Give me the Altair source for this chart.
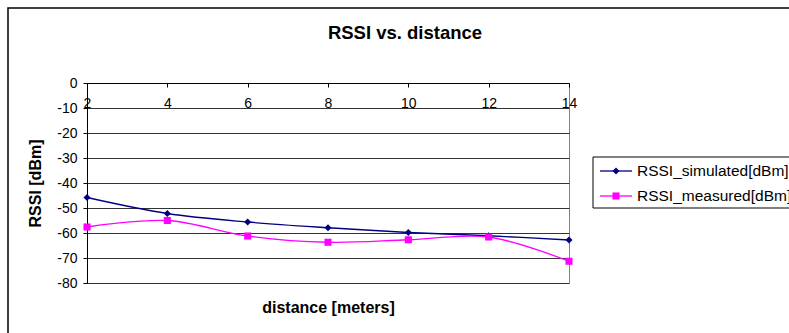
import altair as alt
import pandas as pd

# ---- data ----
distance = [2, 4, 6, 8, 10, 12, 14]
rssi_simulated = [-45.8, -52.2, -55.6, -57.9, -59.8, -61.1, -62.8]
rssi_measured = [-57.6, -55.0, -61.2, -63.7, -62.7, -61.6, -71.3]
series_names = ["RSSI_simulated[dBm]", "RSSI_measured[dBm]"]
series_colors = ["#000080", "#FF00FF"]
series_shapes = ["diamond", "square"]
y_ticks = [0, -10, -20, -30, -40, -50, -60, -70, -80]
x_ticks = [2, 4, 6, 8, 10, 12, 14]

df = pd.DataFrame({
    "distance": distance + distance,
    "rssi": rssi_simulated + rssi_measured,
    "series": [series_names[0]] * len(distance) + [series_names[1]] * len(distance),
})
legend_df = pd.DataFrame({"series": series_names})
one_row = pd.DataFrame({"k": [0]})

FONT = "Liberation Sans, Arial, sans-serif"
W, H = 482, 200
PAD_L, PAD_T = 87, 83

color = alt.Color("series:N", scale=alt.Scale(domain=series_names, range=series_colors), legend=None)
shape = alt.Shape("series:N", scale=alt.Scale(domain=series_names, range=series_shapes), legend=None)

x_enc = alt.X(
    "distance:Q",
    scale=alt.Scale(domain=[2, 14], nice=False, zero=False),
    axis=alt.Axis(
        values=x_ticks, orient="bottom", offset=-H, tickSize=4, tickColor="black",
        domainColor="black", labelFont=FONT, labelFontSize=14, labelColor="black",
        labelPadding=9, labelFlush=False, labelOverlap=False, grid=False,
        title="distance [meters]", titleFont=FONT,
        titleFontSize=16, titleFontWeight="bold", titleColor="black",
        titleY=224, titleBaseline="middle",
    ),
)
y_enc = alt.Y(
    "rssi:Q",
    scale=alt.Scale(domain=[-80, 0], nice=False, zero=False),
    axis=alt.Axis(
        values=y_ticks, tickSize=4, tickColor="black", domainColor="black",
        grid=True, gridColor="#333333", gridWidth=1,
        labelFont=FONT, labelFontSize=14, labelColor="black", labelPadding=6,
        labelOverlap=False, labelExpr="'' + datum.value",
        title="RSSI [dBm]", titleFont=FONT, titleFontSize=16, titleFontWeight="bold",
        titleColor="black", titlePadding=13,
    ),
)

border = alt.Chart(one_row).mark_rect(fillOpacity=0, stroke="black", strokeWidth=1.5).encode(
    x=alt.value(8 - PAD_L), x2=alt.value(900), y=alt.value(8 - PAD_T), y2=alt.value(500)
)

lines = alt.Chart(df).mark_line(interpolate="catmull-rom", strokeWidth=1.3).encode(
    x=x_enc, y=y_enc, color=color, detail="series:N"
)
points = alt.Chart(df).mark_point(filled=True, size=50, opacity=1).encode(
    x=x_enc, y=y_enc, color=color, shape=shape
)

# legend (box + line-with-marker symbols + labels)
LX, LY = 593 - PAD_L, 157 - PAD_T
legend_box = alt.Chart(one_row).mark_rect(fill="white", stroke="black", strokeWidth=1).encode(
    x=alt.value(LX), x2=alt.value(900), y=alt.value(LY), y2=alt.value(LY + 51)
)
legend_layers = []
for i, name in enumerate(series_names):
    row_y = LY + 14 + i * 25
    base = alt.Chart(legend_df).transform_filter(alt.datum.series == name)
    legend_layers.append(
        base.mark_rule(strokeWidth=1.3).encode(
            x=alt.value(LX + 7), x2=alt.value(LX + 39), y=alt.value(row_y), color=color
        )
    )
    legend_layers.append(
        base.mark_point(filled=True, size=50, opacity=1).encode(
            x=alt.value(LX + 23), y=alt.value(row_y), color=color, shape=shape
        )
    )
    legend_layers.append(
        base.mark_text(align="left", baseline="middle", font=FONT, fontSize=15.5, color="black").encode(
            x=alt.value(LX + 44), y=alt.value(row_y), text="series:N"
        )
    )

chart = alt.layer(border, lines, points, legend_box, *legend_layers).properties(
    width=W,
    height=H,
    autosize=alt.AutoSizeParams(type="none"),
    padding={"left": PAD_L, "top": PAD_T, "right": 789 - PAD_L - W, "bottom": 333 - PAD_T - H},
    title=alt.TitleParams(
        "RSSI vs. distance", font=FONT, fontSize=18.5, fontWeight="bold", color="black",
        anchor="middle", frame="group", dx=77, dy=35, offset=0,
    ),
    background="white",
).configure_view(stroke="#808080", strokeWidth=1)

chart.save("out.html", embed_options={"renderer": "svg", "actions": False})
